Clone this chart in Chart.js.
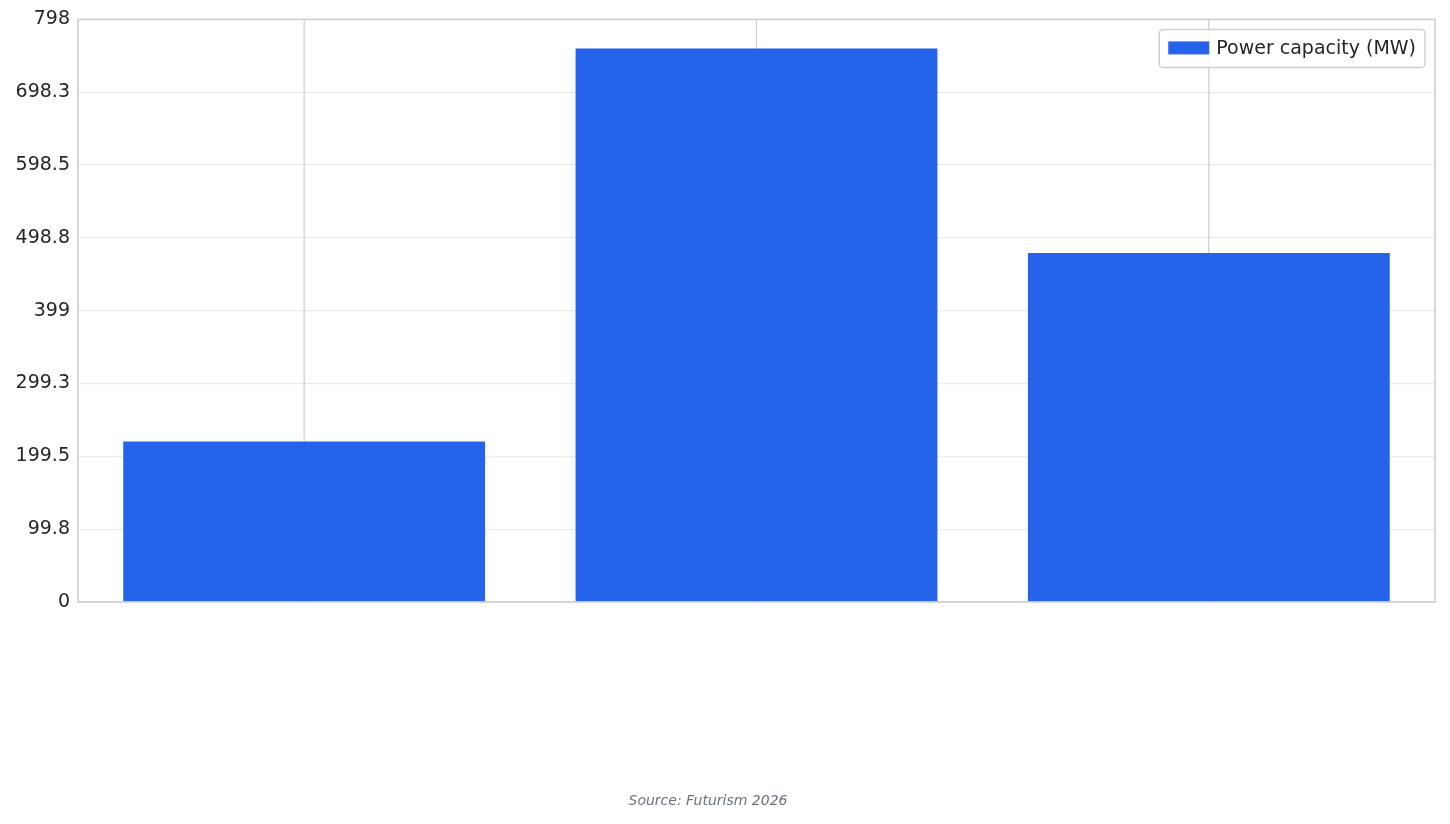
<!DOCTYPE html><html><head><meta charset="utf-8">
<script src="https://cdn.jsdelivr.net/npm/chart.js@4"></script>
<style>html,body{margin:0;background:#fff}#w{width:1450px;height:824px}</style></head><body>
<div id="w"><canvas id="c"></canvas></div>
<script>
const categories=["IT Power Capacity (MW), Early 2025","Planned Additions (MW), by 2030","Hexagon Data Centre (MW), Riyadh"];
const values=[220,758,478];
const seriesName="Power capacity (MW)";
const source="Source: Futurism 2026";
const font="'DejaVu Sans'";
const deco={id:'deco',
 beforeDatasetsDraw(ch){const {ctx,chartArea:a,scales:{x}}=ch;ctx.save();ctx.strokeStyle='#cccccc';ctx.lineWidth=1.2;
  categories.forEach((c,i)=>{const px=x.getPixelForValue(i);ctx.beginPath();ctx.moveTo(px,a.top);ctx.lineTo(px,a.bottom);ctx.stroke();});ctx.restore();},
 afterDraw(ch){const {ctx,chartArea:a}=ch;ctx.save();ctx.strokeStyle='#cccccc';ctx.lineWidth=1.5;ctx.strokeRect(a.left,a.top,a.right-a.left,a.bottom-a.top);
  ctx.font="19px "+font;const tw=ctx.measureText(seriesName).width;const w=tw+66,h=38,bx=a.right-10-w,by=a.top+10;
  ctx.fillStyle='rgba(255,255,255,0.85)';ctx.strokeStyle='#d0d0d0';ctx.lineWidth=1.5;ctx.beginPath();ctx.roundRect(bx,by,w,h,4);ctx.fill();ctx.stroke();
  ctx.fillStyle='#2563eb';ctx.fillRect(bx+9,by+12,41,13);ctx.fillStyle='#262626';ctx.textBaseline='middle';ctx.fillText(seriesName,bx+57,by+h/2+1);
  ctx.font="italic 14px "+font;ctx.fillStyle='#6b7280';ctx.textAlign='center';ctx.fillText(source,708,801);ctx.restore();}};
new Chart(document.getElementById('c'),{type:'bar',data:{labels:categories,datasets:[{label:seriesName,data:values,backgroundColor:'#2563eb',categoryPercentage:1,barPercentage:0.8}]},
options:{responsive:true,maintainAspectRatio:false,animation:false,layout:{padding:{left:10,right:15,top:15,bottom:222}},
plugins:{legend:{display:false},tooltip:{enabled:false}},
scales:{x:{grid:{display:false},border:{display:false},ticks:{color:'#262626',font:{family:font,size:17},maxRotation:30,minRotation:30,padding:2},afterFit(s){s.height=0;}},
y:{min:0,max:798,border:{display:false},grid:{color:'#ebebeb',lineWidth:1.2,drawTicks:false},ticks:{stepSize:100,color:'#262626',font:{family:font,size:19},padding:8},afterFit(s){s.width=68;}}}},
plugins:[deco]});
</script></body></html>
